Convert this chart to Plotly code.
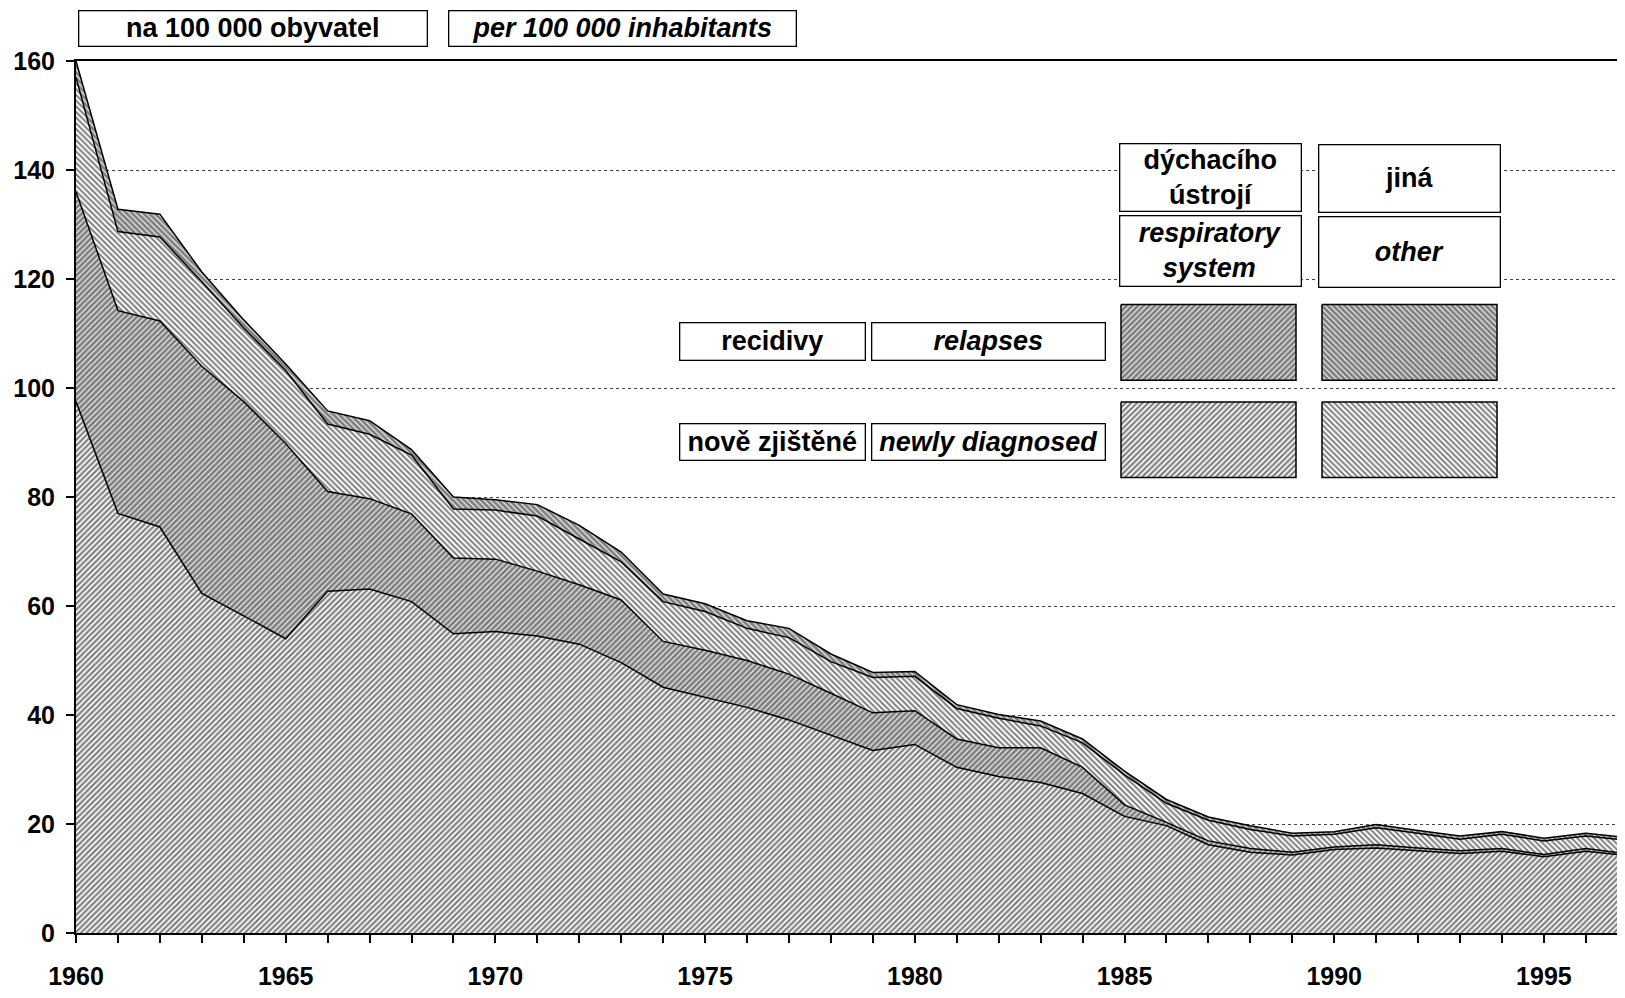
import plotly.graph_objects as go

years = list(range(1960, 1998))

# newly diagnosed, respiratory system (bottom layer)
new_resp = [97.5, 77.0, 74.5, 62.3, 58.2, 54.0, 62.7, 63.1, 60.8, 54.9,
            55.3, 54.5, 53.0, 49.6, 45.1, 43.2, 41.4, 39.1, 36.3, 33.5,
            34.6, 30.4, 28.7, 27.6, 25.6, 21.4, 19.7, 16.2, 14.8, 14.3,
            15.3, 15.6, 15.1, 14.6, 15.0, 14.0, 15.0, 14.2]
# relapses, respiratory system
rel_resp = [38.5, 37.2, 37.8, 41.7, 39.3, 35.8, 18.3, 16.6, 16.1, 13.9,
            13.3, 11.9, 10.9, 11.5, 8.4, 8.7, 8.6, 8.4, 7.7, 6.9,
            6.2, 5.2, 5.3, 6.4, 4.8, 2.1, 0.6, 0.7, 0.7, 0.5,
            0.5, 0.6, 0.5, 0.5, 0.5, 0.4, 0.5, 0.3]
# newly diagnosed, other
new_other = [21.0, 14.5, 15.4, 15.5, 13.5, 13.4, 12.4, 11.8, 10.8, 9.0,
             9.0, 10.1, 8.4, 7.0, 7.3, 7.1, 5.9, 6.7, 5.8, 6.5,
             6.3, 5.6, 5.4, 4.0, 4.5, 5.5, 3.5, 3.8, 3.5, 3.0,
             2.3, 3.1, 2.7, 2.1, 2.6, 2.5, 2.3, 2.5]
# relapses, other
rel_other = [3.0, 4.1, 4.2, 1.8, 1.5, 1.2, 2.4, 2.5, 1.0, 2.2,
             1.9, 2.1, 2.5, 1.8, 1.4, 1.4, 1.4, 1.7, 1.4, 0.9,
             0.9, 0.7, 0.7, 0.9, 0.7, 0.7, 0.7, 0.6, 0.7, 0.5,
             0.5, 0.6, 0.5, 0.6, 0.5, 0.5, 0.5, 0.5]

y_ticks = [0, 20, 40, 60, 80, 100, 120, 140, 160]

# the page body adds an 8px margin, so work in page pixels and shift
OFF = 8
W, H = 1609, 982
L, R, T, B = 76, 1617, 61, 938   # plot area in page pixels
FONT = "Liberation Sans, Arial, sans-serif"

light_resp = dict(shape="/", fgcolor="black", bgcolor="white", size=4, solidity=0.55)
dark_resp = dict(shape="/", fgcolor="black", bgcolor="white", size=4, solidity=0.72)
light_other = dict(shape="\\", fgcolor="black", bgcolor="white", size=4, solidity=0.5)
dark_other = dict(shape="\\", fgcolor="black", bgcolor="white", size=4, solidity=0.72)

fig = go.Figure()
layers = [(new_resp, light_resp), (rel_resp, dark_resp),
          (new_other, light_other), (rel_other, dark_other)]
for vals, pat in layers:
    fig.add_trace(go.Scatter(x=years, y=vals, stackgroup="one", mode="lines",
                             line=dict(color="black", width=1.5),
                             fillcolor="white", fillpattern=pat,
                             showlegend=False, hoverinfo="skip"))

# legend swatches on an overlay axis measured in page pixels
swatches = [(1121, 1296, 306, 382, dark_resp), (1322, 1497, 306, 382, dark_other),
            (1121, 1296, 404, 480, light_resp), (1322, 1497, 404, 480, light_other)]
for x0, x1, y0, y1, pat in swatches:
    fig.add_trace(go.Scatter(x=[x0, x1, x1, x0, x0], y=[y0, y0, y1, y1, y0],
                             xaxis="x2", yaxis="y2", mode="lines", fill="toself",
                             line=dict(color="black", width=1.5),
                             fillcolor="white", fillpattern=pat,
                             showlegend=False, hoverinfo="skip"))


def px(x):
    return (x - L) / (R - L)


def py(y):
    return (B - y) / (B - T)


boxes = [
    ("na 100 000 obyvatel", 78, 427, 10, 46, False),
    ("per 100 000 inhabitants", 448, 796, 10, 46, True),
    ("dýchacího<br>ústrojí", 1119, 1301, 144, 212, False),
    ("jiná", 1318, 1500, 145, 213, False),
    ("respiratory<br>system", 1119, 1301, 217, 288, True),
    ("other", 1318, 1500, 218, 289, True),
    ("recidivy", 679, 865, 324, 362, False),
    ("relapses", 871, 1105, 324, 362, True),
    ("nově zjištěné", 679, 865, 426, 463, False),
    ("newly diagnosed", 871, 1105, 426, 463, True),
]
for text, x0, x1, y0, y1, ital in boxes:
    t = f"<b>{text}</b>"
    if ital:
        t = f"<i>{t}</i>"
    fig.add_annotation(text=t, xref="paper", yref="paper",
                       x=px((x0 + x1) / 2), y=py((y0 + y1) / 2),
                       xanchor="center", yanchor="middle", showarrow=False,
                       width=x1 - x0 - 4, height=y1 - y0 - 4,
                       bordercolor="black", borderwidth=1.3, borderpad=1,
                       bgcolor="white",
                       font=dict(family=FONT, size=27, color="black"))

fig.update_layout(
    width=W, height=H,
    margin=dict(l=L - OFF, r=W + OFF - R, t=T - OFF, b=H + OFF - B),
    plot_bgcolor="white", paper_bgcolor="white",
    font=dict(family=FONT, size=25, color="black"),
    xaxis=dict(range=[1960, 1960 + (R - L) / 41.94], tickvals=years,
               ticktext=[f"<b>{y}</b>" if y % 5 == 0 else "" for y in years],
               ticks="outside", ticklen=8, tickwidth=1.5, tickcolor="black",
               showline=True, linecolor="black", linewidth=2, mirror=True,
               showgrid=False, zeroline=False, ticklabelstandoff=12,
               tickfont=dict(family=FONT, size=25)),
    yaxis=dict(range=[0, 160], tickvals=y_ticks,
               ticktext=[f"<b>{v}</b>" for v in y_ticks],
               ticks="outside", ticklen=8, tickwidth=1.5, tickcolor="black",
               showline=True, linecolor="black", linewidth=2,
               showgrid=True, gridcolor="#444", griddash="dot", gridwidth=1,
               zeroline=False, ticklabelstandoff=6,
               tickfont=dict(family=FONT, size=25)),
    xaxis2=dict(range=[L, R], overlaying="x", anchor="y2", visible=False),
    yaxis2=dict(range=[B, T], overlaying="y", anchor="x2", visible=False),
)

fig.write_html("out.html")
